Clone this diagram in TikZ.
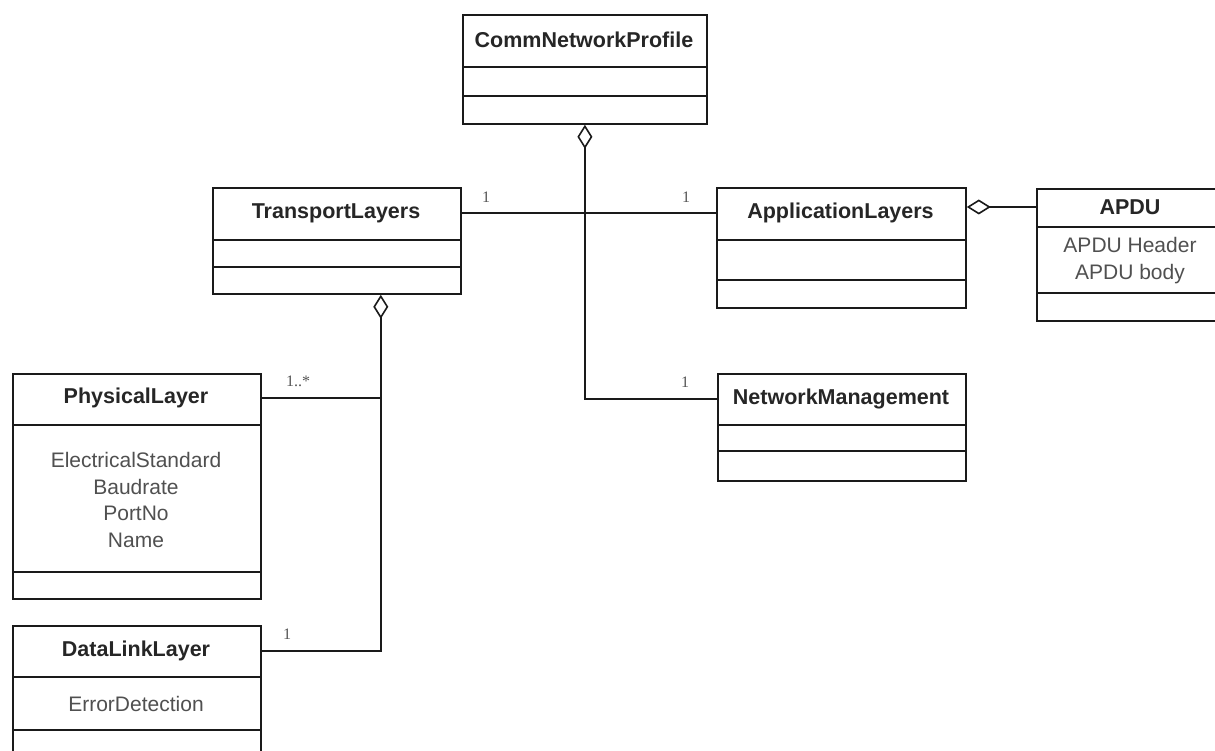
\documentclass[tikz,border=0pt]{standalone}
\usepackage{fontspec}
\setmainfont{Liberation Sans}
\newfontfamily\lblfont{Liberation Serif}
\usetikzlibrary{arrows.meta}
\definecolor{ink}{HTML}{1A1A1A}
\definecolor{titleink}{HTML}{262626}
\definecolor{attrink}{HTML}{505050}
\definecolor{lblink}{HTML}{555555}
\newcommand\clsdiv[2]{\draw[divl] ([yshift=-#2]#1.north west) -- ([yshift=-#2]#1.north east);}
\begin{document}
\begin{tikzpicture}[x=1pt,y=-1pt,
  box/.style={draw=ink, line width=1.8pt, rectangle, inner sep=0pt, anchor=north west, fill=white},
  divl/.style={draw=ink, line width=1.8pt},
  ttl/.style={font=\bfseries\fontsize{21.5}{24}\selectfont, text=titleink, inner sep=0pt},
  attr/.style={font=\fontsize{21}{26.7}\selectfont, text=attrink, align=center, inner sep=0pt},
  mult/.style={font=\lblfont\fontsize{16}{18}\selectfont, text=lblink, inner sep=0pt},
  conn/.style={draw=ink, line width=1.8pt},
  agg/.style={conn, {Diamond[open, length=24pt, width=15pt, line width=1.6pt]}-}
]
\clip (0,0) rectangle (1215,751);
\fill[white] (0,0) rectangle (1215,751);

% CommNetworkProfile
\node[box, minimum width=244pt, minimum height=109pt] (cnp) at (462,14) {};
\clsdiv{cnp}{53pt}
\clsdiv{cnp}{82pt}
\node[ttl] (cnpT) at (584,40) {CommNetworkProfile};

% TransportLayers
\node[box, minimum width=248pt, minimum height=106pt] (tl) at (212,187) {};
\clsdiv{tl}{53pt}
\clsdiv{tl}{80pt}
\node[ttl] (tlT) at (336,213) {TransportLayers};

% ApplicationLayers
\node[box, minimum width=249pt, minimum height=120pt] (al) at (716,187) {};
\clsdiv{al}{53pt}
\clsdiv{al}{93pt}
\node[ttl] (alT) at (840.5,213) {ApplicationLayers};

% APDU
\node[box, minimum width=188pt, minimum height=132pt] (apdu) at (1036,188) {};
\clsdiv{apdu}{39pt}
\clsdiv{apdu}{105pt}
\node[ttl] (apduT) at (1130,207) {APDU};
\node[attr, font=\fontsize{21}{27}\selectfont] (apduA) at (1130,260.5) {APDU Header\\APDU body};

% NetworkManagement
\node[box, minimum width=248pt, minimum height=107pt] (nm) at (717,373) {};
\clsdiv{nm}{52pt}
\clsdiv{nm}{78pt}
\node[ttl] (nmT) at (841,399) {NetworkManagement};

% PhysicalLayer
\node[box, minimum width=248pt, minimum height=225pt] (pl) at (12,373) {};
\clsdiv{pl}{52pt}
\clsdiv{pl}{199pt}
\node[ttl] (plT) at (136,398) {PhysicalLayer};
\node[attr] (plA) at (136,500) {ElectricalStandard\\Baudrate\\PortNo\\Name};

% DataLinkLayer
\node[box, minimum width=248pt, minimum height=160pt] (dll) at (12,625) {};
\clsdiv{dll}{52pt}
\clsdiv{dll}{105pt}
\node[ttl] (dllT) at (136,651) {DataLinkLayer};
\node[attr] (dllA) at (136,704) {ErrorDetection};

% connectors
\draw[agg] (cnp.south) |- (nm.west |- nmT.center);
\draw[conn] (tl.east |- tlT.center) -- (al.west |- alT.center);
\coordinate (tlA) at ([xshift=-81pt]tl.south east);
\draw[agg] (tlA) |- (dll.east |- dllT.center);
\draw[conn] (pl.east |- plT.center) -- (tlA |- plT.center);
\draw[agg] (al.east |- apduT.center) -- (apdu.west |- apduT.center);

% multiplicities
\node[mult] (m1) at (486,197) {1};
\node[mult] (m2) at (686,197) {1};
\node[mult] (m3) at (298,381) {1..*};
\node[mult] (m4) at (685,382) {1};
\node[mult] (m5) at (287,634) {1};
\end{tikzpicture}
\end{document}
